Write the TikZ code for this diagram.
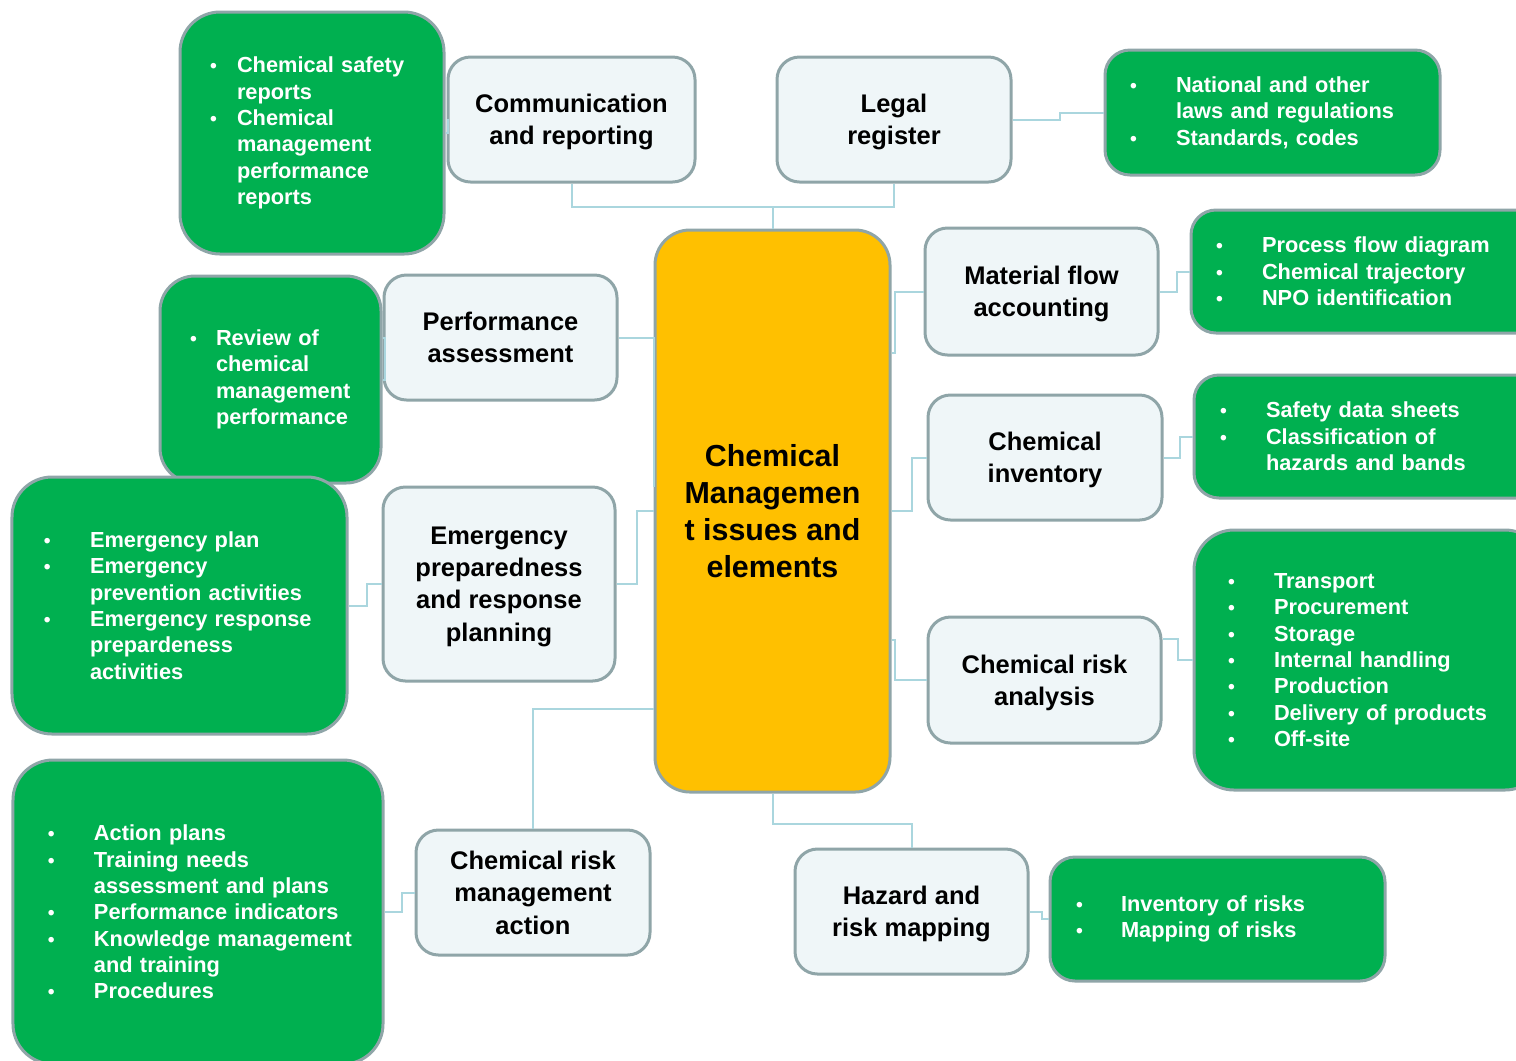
\documentclass[tikz,border=0pt]{standalone}
\usepackage{fontspec}
\setmainfont{Liberation Sans}
\usepackage{tikz}
\usetikzlibrary{positioning}

\definecolor{boxgreen}{RGB}{0,176,80}
\definecolor{boxedge}{RGB}{143,165,168}
\definecolor{paleblue}{RGB}{239,246,248}
\definecolor{coreyellow}{RGB}{255,192,0}
\definecolor{linkblue}{RGB}{170,214,222}

\newlength\bgap
\setlength\bgap{9.2mm}
\newcommand{\bul}{{\fontsize{11}{11}\selectfont\textbullet}}
\newcommand{\itm}[1]{\makebox[\bgap][l]{\bul}\mbox{#1}}
\newcommand{\cnt}[1]{\hspace*{\bgap}\mbox{#1}}

\begin{document}
\begin{tikzpicture}[
    x=0.2mm, y=-0.2mm,
    topic/.style={
        rectangle,
        rounded corners=4.5mm,
        draw=boxedge,
        line width=0.6mm,
        fill=paleblue,
        align=center,
        inner sep=0pt,
        text depth=0pt,
        font=\bfseries\fontsize{14.5}{18.4}\selectfont
    },
    detail/.style={
        rectangle,
        rounded corners=6mm,
        draw=boxedge,
        line width=0.6mm,
        fill=boxgreen,
        text=white,
        align=left,
        inner ysep=0pt,
        font=\bfseries\fontsize{12.4}{15}\selectfont
    },
    link/.style={
        draw=linkblue,
        line width=0.4mm
    }
  ]
  \useasboundingbox (0,0) rectangle (1516,1060);

  % the centre block
  \node [topic, fill=coreyellow, rounded corners=7mm, minimum width=47mm, minimum height=112.4mm,
         font=\bfseries\fontsize{17.3}{21}\selectfont] (central) at (772.5,511)
  {Chemical\\Managemen\\t issues and\\elements};

  % the elements round it
  \node [topic, minimum width=49.4mm, minimum height=25mm] (comm) at (571.5,119.5)
  {Communication\\and reporting};
  \node [topic, minimum width=46.8mm, minimum height=25mm] (legal) at (894,119.5)
  {Legal\\register};
  \node [topic, minimum width=46.6mm, minimum height=25.4mm] (mfa) at (1041.5,291.5)
  {Material flow\\accounting};
  \node [topic, minimum width=46.6mm, minimum height=25mm] (perf) at (500.5,337.5)
  {Performance\\assessment};
  \node [topic, minimum width=46.8mm, minimum height=25mm] (inv) at (1045,457.5)
  {Chemical\\inventory};
  \node [topic, minimum width=46.4mm, minimum height=38.8mm] (emerg) at (499,584)
  {Emergency\\preparedness\\and response\\planning};
  \node [topic, minimum width=46.6mm, minimum height=25.2mm] (cra) at (1044.5,680)
  {Chemical risk\\analysis};
  \node [topic, minimum width=46.8mm, minimum height=25mm] (crma) at (533,892.5)
  {Chemical risk\\management\\action};
  \node [topic, minimum width=46.6mm, minimum height=25mm] (hazard) at (911.5,911.5)
  {Hazard and\\risk mapping};

  % the green notes
  \node [detail, rounded corners=8mm, minimum width=52.8mm, minimum height=48.4mm,
         text width=40.8mm, inner xsep=6mm] (reports) at (312,133)
  {\setlength\bgap{5.4mm}%
   \itm{Chemical safety}\\ \cnt{reports}\\ \itm{Chemical}\\ \cnt{management}\\
   \cnt{performance}\\ \cnt{reports}};
  \node [detail, rounded corners=5mm, minimum width=67mm, minimum height=25mm,
         text width=57mm, inner xsep=5mm] (laws) at (1272.5,112.5)
  {\itm{National and other}\\ \cnt{laws and regulations}\\ \itm{Standards, codes}};
  \node [detail, rounded corners=5mm, minimum width=70.8mm, minimum height=24.6mm,
         text width=60.8mm, inner xsep=5mm] (flows) at (1368,271.5)
  {\itm{Process flow diagram}\\ \itm{Chemical trajectory}\\ \itm{NPO identification}};
  \node [detail, rounded corners=7mm, minimum width=44.2mm, minimum height=41.4mm,
         text width=32.2mm, inner xsep=6mm] (review) at (270.5,379.5)
  {\setlength\bgap{5.2mm}%
   \itm{Review of}\\ \cnt{chemical}\\ \cnt{management}\\ \cnt{performance}};
  \node [detail, rounded corners=5mm, minimum width=70.2mm, minimum height=24.6mm,
         text width=59.8mm, inner xsep=5.2mm] (sheets) at (1369.5,436.5)
  {\itm{Safety data sheets}\\ \itm{Classification of}\\ \cnt{hazards and bands}};
  \node [detail, rounded corners=8mm, minimum width=67mm, minimum height=51.4mm,
         text width=54.2mm, inner xsep=6.4mm] (emplan) at (179.5,605.5)
  {\itm{Emergency plan}\\ \itm{Emergency}\\ \cnt{prevention activities}\\
   \itm{Emergency response}\\ \cnt{prepardeness}\\ \cnt{activities}};
  \node [detail, rounded corners=8mm, minimum width=70.2mm, minimum height=52mm,
         text width=56.6mm, inner xsep=6.8mm] (stages) at (1369.5,660)
  {\itm{Transport}\\ \itm{Procurement}\\ \itm{Storage}\\ \itm{Internal handling}\\
   \itm{Production}\\ \itm{Delivery of products}\\ \itm{Off-site}};
  \node [detail, rounded corners=8mm, minimum width=74mm, minimum height=60.8mm,
         text width=60mm, inner xsep=7mm] (actions) at (198,912)
  {\itm{Action plans}\\ \itm{Training needs}\\ \cnt{assessment and plans}\\
   \itm{Performance indicators}\\ \itm{Knowledge management}\\ \cnt{and training}\\
   \itm{Procedures}};
  \node [detail, rounded corners=5mm, minimum width=67mm, minimum height=24.8mm,
         text width=56.6mm, inner xsep=5.2mm] (risks) at (1217.5,919)
  {\setlength\bgap{9mm}%
   \itm{Inventory of risks}\\ \itm{Mapping of risks}};

  % connectors
  \draw [link] (comm.south) -- ++(0,23) -| (central.north);
  \draw [link] (legal.south) -- ++(0,23) -| (central.north);
  \draw [link] (reports.east) -- ++(2,0) |- (comm.west);
  \draw [link] (legal.east) -- ++(47,0) |- (laws.west);
  \draw [link] ([yshift=4.8mm]central.west) |- (perf.east);
  \draw [link] (review.east) -- ++(2,0) |- (perf.west);
  \draw [link] (emerg.east) -- ++(20,0) |- (central.west);
  \draw [link] (emplan.east) -- ++(18,0) |- (emerg.west);
  \draw [link] ([yshift=-39.6mm]central.west) -| (crma.north);
  \draw [link] (actions.east) -- ++(17,0) |- (crma.west);
  \draw [link] (central.south) -- ++(0,30) -| (hazard.north);
  \draw [link] (hazard.east) -- ++(12,0) |- (risks.west);
  \draw [link] ([yshift=31.6mm]central.east) -- ++(3,0) |- (mfa.west);
  \draw [link] (mfa.east) -- ++(17,0) |- (flows.west);
  \draw [link] (central.east) -- ++(20,0) |- (inv.west);
  \draw [link] (inv.east) -- ++(16,0) |- (sheets.west);
  \draw [link] ([yshift=-25.8mm]central.east) -- ++(3,0) |- (cra.west);
  \draw [link] ([yshift=8.2mm]cra.east) -- ++(15,0) |- (stages.west);

\end{tikzpicture}
\end{document}
